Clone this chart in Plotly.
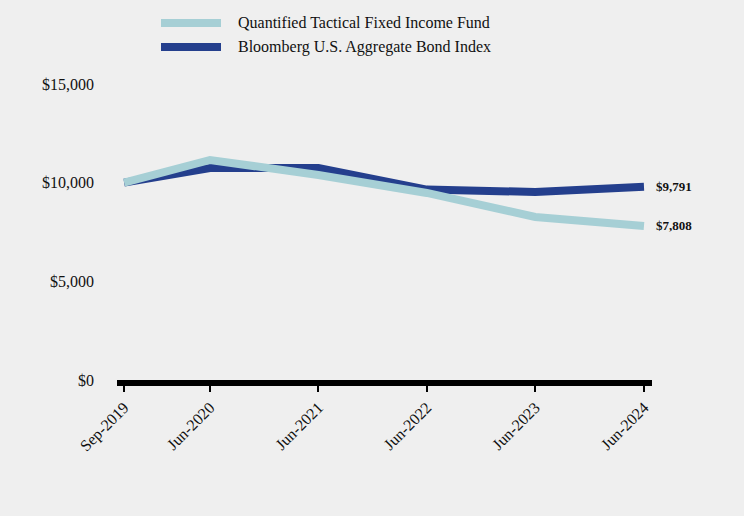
import plotly.graph_objects as go

dates = ["2019-09-15", "2020-06-30", "2021-06-30", "2022-06-30", "2023-06-30", "2024-06-30"]
tick_labels = ["Sep-2019", "Jun-2020", "Jun-2021", "Jun-2022", "Jun-2023", "Jun-2024"]
fund_name = "Quantified Tactical Fixed Income Fund"
index_name = "Bloomberg U.S. Aggregate Bond Index"
fund_values = [10000, 11150, 10390, 9480, 8260, 7808]
index_values = [10000, 10745, 10745, 9650, 9530, 9791]
y_ticks = [0, 5000, 10000, 15000]
y_tick_labels = ["$0", "$5,000", "$10,000", "$15,000"]

FUND_COLOR = "#A6CFD5"
INDEX_COLOR = "#243F8D"
FONT = "Liberation Serif"

fig = go.Figure()
fig.add_trace(go.Scatter(x=dates, y=index_values, name=index_name, mode="lines",
                         line=dict(color=INDEX_COLOR, width=8), showlegend=False))
fig.add_trace(go.Scatter(x=dates, y=fund_values, name=fund_name, mode="lines",
                         line=dict(color=FUND_COLOR, width=8), showlegend=False))

# legend (drawn in paper coordinates)
legend_items = [(fund_name, FUND_COLOR, 23), (index_name, INDEX_COLOR, 47)]
H = 516 - 84 - 136
W = 744 - 117 - 92
for name, color, ypix in legend_items:
    yp = (516 - 136 - ypix) / H
    x0 = (161 - 117) / W
    x1 = (221 - 117) / W
    fig.add_shape(type="line", xref="paper", yref="paper", x0=x0, x1=x1, y0=yp, y1=yp,
                  line=dict(color=color, width=8))
    fig.add_annotation(xref="paper", yref="paper", x=(236 - 117) / W, y=yp, text=name,
                       showarrow=False, xanchor="left", yanchor="middle",
                       font=dict(family=FONT, size=16, color="#111111"))

fig.add_annotation(x=dates[-1], y=index_values[-1], text="<b>$%s</b>" % f"{index_values[-1]:,}",
                   showarrow=False, xanchor="left", xshift=10, yanchor="middle",
                   font=dict(family=FONT, size=13, color="#111111"))
fig.add_annotation(x=dates[-1], y=fund_values[-1], text="<b>$%s</b>" % f"{fund_values[-1]:,}",
                   showarrow=False, xanchor="left", xshift=10, yanchor="middle",
                   font=dict(family=FONT, size=13, color="#111111"))

fig.update_layout(
    width=744, height=516,
    margin=dict(l=117, r=92, t=84, b=136),
    paper_bgcolor="#EFEFEF", plot_bgcolor="#EFEFEF",
    font=dict(family=FONT, size=16, color="#111111"),
    showlegend=False,
)
fig.update_xaxes(type="date", range=["2019-08-22", "2024-07-27"],
                 tickmode="array", tickvals=dates, ticktext=tick_labels, tickangle=-45,
                 showgrid=False, zeroline=False,
                 showline=True, linecolor="black", linewidth=6,
                 ticks="outside", ticklen=6, tickwidth=2, tickcolor="black",
                 tickfont=dict(family=FONT, size=16))
fig.update_yaxes(range=[0, 15000], tickmode="array", tickvals=y_ticks, ticktext=y_tick_labels,
                 showgrid=False, zeroline=False, showline=False, ticks="",
                 ticklabelstandoff=22, tickfont=dict(family=FONT, size=16))

fig.write_html("out.html",
               config={"displayModeBar": False},
               post_script="document.body.style.margin='0';"
                           "document.body.style.background='#EFEFEF';"
                           "document.body.style.overflow='hidden';")
